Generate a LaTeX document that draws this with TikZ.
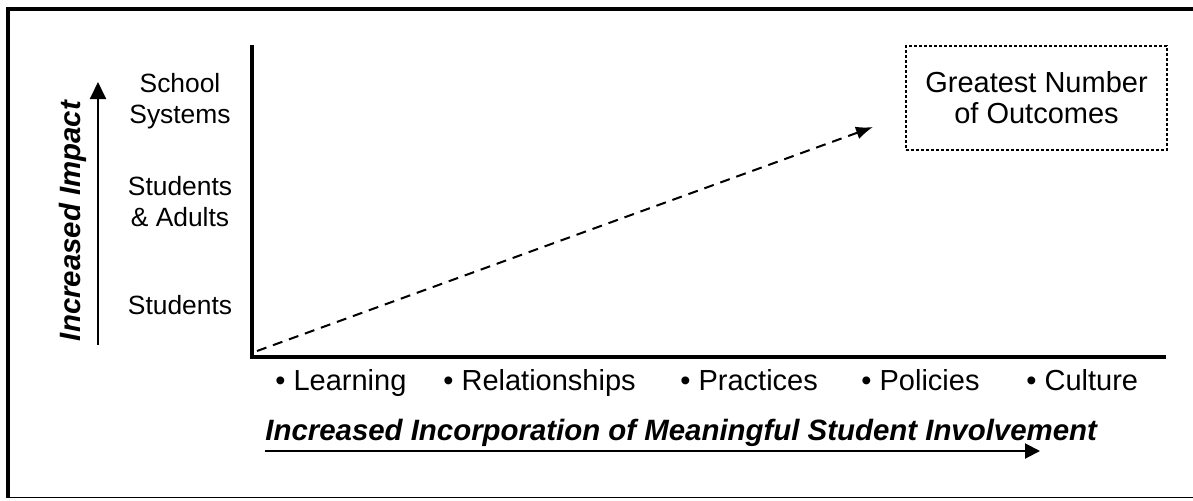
\documentclass[tikz,border=0pt]{standalone}
\usepackage{fontspec}
\setmainfont{Liberation Sans}
\usetikzlibrary{positioning,arrows.meta}

\begin{document}
\begin{tikzpicture}[x=0.5pt, y=-0.5pt]
        % Style cho trục, nhãn và ô kết quả
        \tikzstyle{axisline} = [line width=2pt]
        \tikzstyle{levellabel} = [
            inner sep=0pt,
            align=center,
            font=\fontsize{13.2}{15.5}\selectfont
        ]
        \tikzstyle{arealabel} = [
            inner sep=0pt,
            anchor=base west,
            font=\fontsize{14.5}{17}\selectfont
        ]
        \tikzstyle{axistitle} = [
            inner sep=0pt,
            font=\fontsize{14.7}{17}\selectfont\bfseries\itshape
        ]
        \tikzstyle{outcome} = [
            draw,
            line width=0.9pt,
            dash pattern=on 1.6pt off 0.9pt,
            minimum width=130.5pt,
            minimum height=52pt,
            inner sep=0pt,
            align=center,
            font=\fontsize{14.5}{15.5}\selectfont
        ]

        \useasboundingbox (0,0) rectangle (1193,500);

        % Khung ngoài (chỉ có cạnh trên, trái, dưới)
        \draw[line width=2pt] (1193,9) -- (7.5,9) -- (7.5,498);
        \draw[line width=0.6pt] (7.5,497.5) -- (1193,497.5);

        % Hai trục
        \coordinate (ytop) at (252,45);
        \coordinate (origin) at (252,357);
        \coordinate (xend) at (1166,357);
        \draw[axisline] (ytop) -- (origin) -- (xend);

        % Mức tác động trên trục đứng
        \node[levellabel] (systems) at (180,101) {School\\Systems};
        \node[levellabel] (adults) at (180,202) {Students\\\& Adults};
        \node[levellabel, anchor=base] (students) at (180,314) {Students};

        % Mũi tên và nhãn trục đứng
        \coordinate (impactlow) at (98,345);
        \coordinate (impacthigh) at (98,82);
        \draw[line width=1pt, -{Triangle[length=8.5pt, width=8pt]}] (impactlow) -- (impacthigh);
        \node[axistitle, rotate=90, anchor=base] (impact) at (80,221) {Increased Impact};

        % Các lĩnh vực trên trục ngang
        \node[arealabel] (learning) at (275,390) {• Learning};
        \node[arealabel] (relations) at (443,390) {• Relationships};
        \node[arealabel] (practices) at (680,390) {• Practices};
        \node[arealabel] (policies) at (861,390) {• Policies};
        \node[arealabel] (culture) at (1026,390) {• Culture};

        % Nhãn và mũi tên trục ngang
        \node[axistitle, anchor=base west] (involvement) at (265,440)
            {Increased Incorporation of Meaningful Student Involvement};
        \coordinate (invstart) at (265,451);
        \coordinate (invend) at (1040,451);
        \draw[line width=1pt, -{Triangle[length=7.5pt, width=7.5pt]}] (invstart) -- (invend);

        % Ô kết quả và mũi tên nét đứt
        \node[outcome] (goal) at (1036.5,98) {Greatest Number\\of Outcomes};
        \coordinate (dstart) at (257,351);
        \coordinate (dend) at (873,127);
        \draw[line width=1pt, dash pattern=on 5pt off 3.5pt,
            -{Latex[length=8.5pt, width=6.5pt]}] (dstart) -- (dend);

    \end{tikzpicture}
\end{document}
